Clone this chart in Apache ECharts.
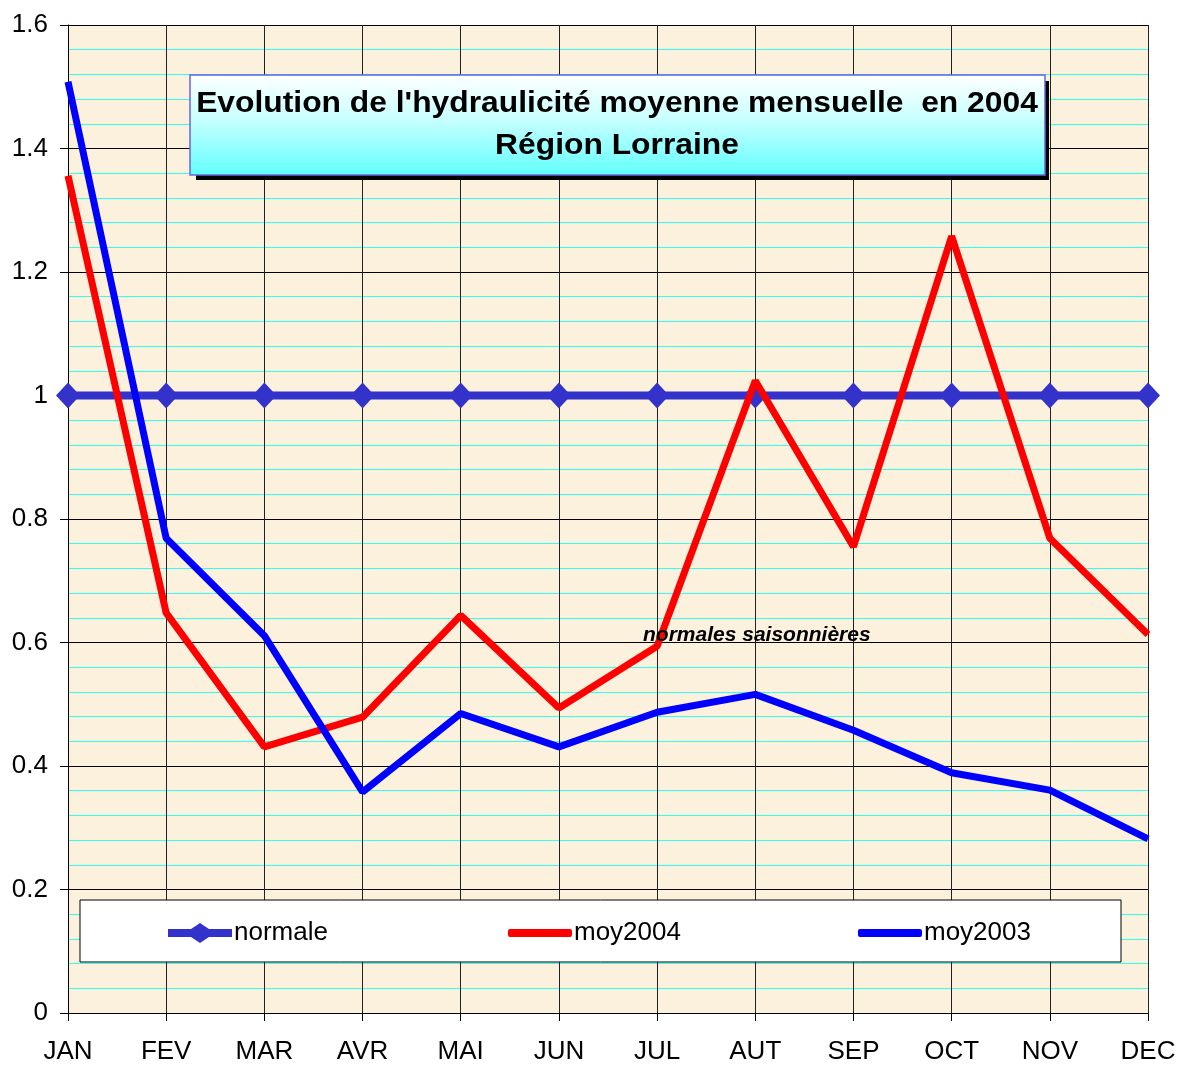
<!DOCTYPE html>
<html>
<head>
<meta charset="utf-8">
<script src="https://cdn.jsdelivr.net/npm/echarts@6/dist/echarts.min.js"></script>
<style>
  html, body { margin: 0; padding: 0; background: #fff; }
  #chart { width: 1179px; height: 1065px; }
</style>
</head>
<body>
<div id="chart"></div>
<script>
const months = ["JAN", "FEV", "MAR", "AVR", "MAI", "JUN", "JUL", "AUT", "SEP", "OCT", "NOV", "DEC"];
const normale = [1, 1, 1, 1, 1, 1, 1, 1, 1, 1, 1, 1];
const moy2004 = [1.356, 0.648, 0.431, 0.479, 0.644, 0.494, 0.594, 1.024, 0.755, 1.258, 0.769, 0.613];
const moy2003 = [1.508, 0.769, 0.611, 0.358, 0.485, 0.431, 0.487, 0.516, 0.458, 0.389, 0.361, 0.282];

const titleLines = ["Evolution de l'hydraulicité moyenne mensuelle  en 2004", "Région Lorraine"];
const noteText = "normales saisonnières";

const chart = echarts.init(document.getElementById("chart"));
const font = "Liberation Sans, Arial, sans-serif";

// line + diamond, like the excel legend
const diamondIcon = "path://M0,6 L23,6 L32,0 L41,6 L64,6 L64,14 L41,14 L32,20 L23,14 L0,14 Z";

let options = {
  animation: false,
  backgroundColor: "#ffffff",
  grid: {
    left: 68,
    right: 31,
    top: 25,
    bottom: 45,
    show: true,
    backgroundColor: "#fcf1dc",
    borderWidth: 0,
  },
  xAxis: {
    type: "category",
    data: months,
    boundaryGap: false,
    axisLine: { lineStyle: { color: "#000", width: 1 } },
    axisTick: { show: true, alignWithLabel: true, length: 8, lineStyle: { color: "#000" } },
    axisLabel: { color: "#000", fontSize: 26, fontFamily: font, margin: 26 },
    splitLine: { show: true, lineStyle: { color: "#222", width: 1 } },
  },
  yAxis: {
    type: "value",
    min: 0,
    max: 1.6,
    interval: 0.2,
    axisLine: { show: true, lineStyle: { color: "#000", width: 1 } },
    axisTick: { show: true, length: 8, lineStyle: { color: "#000" } },
    axisLabel: { color: "#000", fontSize: 26, fontFamily: font, margin: 20 },
    splitLine: { show: true, lineStyle: { color: "#000", width: 1 } },
    minorTick: { show: false, splitNumber: 5 },
    minorSplitLine: { show: true, lineStyle: { color: "#33ffee", width: 1 } },
  },
  legend: [
    { data: [{ name: "normale", icon: diamondIcon }], left: 168, top: 918, itemHeight: 20 },
    { data: [{ name: "moy2004", icon: "roundRect" }], left: 508, top: 918, itemHeight: 8 },
    { data: [{ name: "moy2003", icon: "roundRect" }], left: 858, top: 918, itemHeight: 8 },
  ].map((l) => Object.assign(l, {
    itemWidth: 64,
    itemGap: 0,
    padding: 0,
    z: 10,
    textStyle: { color: "#000", fontSize: 26, fontFamily: font, lineHeight: 30, padding: [0, 0, 0, -3] },
  })),
  graphic: [
    // legend box
    {
      type: "rect",
      z: 5,
      shape: { x: 80, y: 900, width: 1041, height: 62 },
      style: { fill: "#fff", stroke: "#000", lineWidth: 1 },
    },
    // title box + shadow
    {
      type: "rect",
      z: 5,
      shape: { x: 196, y: 81, width: 853, height: 99 },
      style: { fill: "#000" },
    },
    {
      type: "rect",
      z: 6,
      shape: { x: 190, y: 75, width: 855, height: 100 },
      style: {
        fill: new echarts.graphic.LinearGradient(0, 0, 0, 1, [
          { offset: 0, color: "#ffffff" },
          { offset: 0.45, color: "#c8ffff" },
          { offset: 1, color: "#60ffff" },
        ]),
        stroke: "#6666dd",
        lineWidth: 1.5,
      },
    },
    {
      type: "text",
      z: 7,
      x: 617,
      y: 104,
      scaleX: 1.06,
      style: {
        text: titleLines[0],
        fill: "#000",
        font: "bold 30px " + font,
        textAlign: "center",
        textVerticalAlign: "middle",
      },
    },
    {
      type: "text",
      z: 7,
      x: 617,
      y: 146,
      scaleX: 1.06,
      style: {
        text: titleLines[1],
        fill: "#000",
        font: "bold 30px " + font,
        textAlign: "center",
        textVerticalAlign: "middle",
      },
    },
    {
      type: "text",
      z: 7,
      x: 643,
      y: 635,
      style: {
        text: noteText,
        fill: "#000",
        font: "italic bold 21px " + font,
        textAlign: "left",
        textVerticalAlign: "middle",
      },
    },
  ],
  series: [
    {
      name: "normale",
      type: "line",
      data: normale,
      symbol: "diamond",
      symbolSize: [24, 26],
      showAllSymbol: true,
      z: 3,
      itemStyle: { color: "#3333cc" },
      lineStyle: { color: "#3333cc", width: 8 },
    },
    {
      name: "moy2004",
      type: "line",
      data: moy2004,
      symbol: "none",
      z: 4,
      itemStyle: { color: "#ff0000" },
      lineStyle: { color: "#ff0000", width: 7 },
    },
    {
      name: "moy2003",
      type: "line",
      data: moy2003,
      symbol: "none",
      z: 4,
      itemStyle: { color: "#0000ff" },
      lineStyle: { color: "#0000ff", width: 7 },
    },
  ],
};
chart.setOption(options);
</script>
</body>
</html>
